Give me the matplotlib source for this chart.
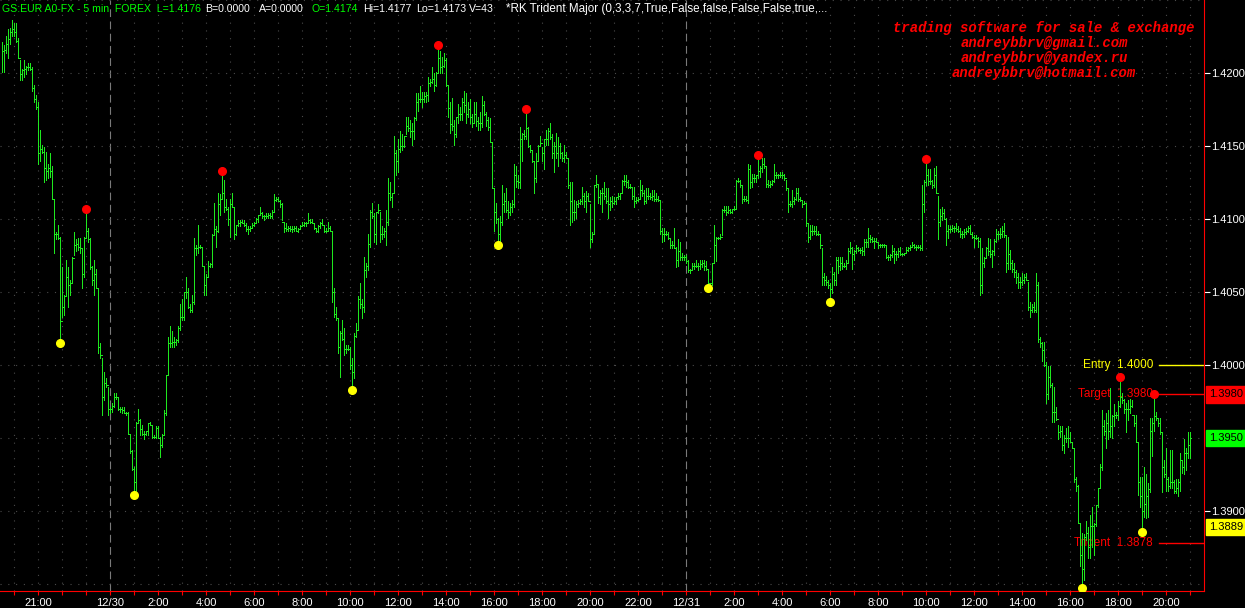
import numpy as np
import pandas as pd
import matplotlib
matplotlib.use("Agg")
import matplotlib.pyplot as plt
import matplotlib.transforms as mtransforms

# EUR 5-min bars, 12/29 19:30 -> 12/31 21:00, prices in pips above 1.3800
base = 1.3800
start_time = "2009-12-29 19:30"

bar_high = [
    421, 419, 425, 430, 431, 436, 434, 434, 424, 409,  # 0
    403, 409, 405, 407, 407, 404, 392, 385, 380, 361,
    351, 349, 346, 338, 345, 336, 314, 291, 296, 288,
    267, 248, 272, 267, 258, 274, 291, 286, 287, 287,
    280, 288, 305, 294, 287, 268, 272, 266, 253, 215,
    205, 195, 191, 185, 171, 174, 181, 181, 178, 171,  # 50
    171, 171, 168, 168, 153, 142, 130, 161, 170, 163,
    159, 155, 155, 160, 161, 159, 152, 158, 158, 151,
    153, 169, 193, 219, 227, 223, 219, 218, 227, 242,
    245, 250, 260, 253, 242, 248, 287, 282, 296, 282,
    281, 268, 262, 271, 270, 290, 311, 295, 318, 317,  # 100
    331, 327, 314, 308, 314, 318, 308, 296, 299, 299,
    299, 299, 297, 295, 295, 297, 298, 301, 303, 308,
    305, 303, 304, 304, 304, 306, 317, 315, 315, 313,
    311, 298, 297, 295, 295, 295, 295, 295, 294, 296,
    298, 298, 298, 304, 300, 300, 297, 294, 296, 298,  # 150
    300, 296, 294, 298, 295, 292, 253, 240, 232, 223,
    231, 225, 214, 214, 212, 205, 222, 229, 247, 256,
    245, 274, 270, 290, 306, 311, 304, 304, 310, 305,
    295, 294, 306, 328, 325, 318, 357, 347, 355, 360,
    358, 357, 370, 370, 368, 366, 370, 386, 386, 391,  # 200
    387, 387, 387, 397, 396, 404, 400, 401, 417, 415,
    411, 414, 410, 392, 380, 383, 368, 370, 379, 377,
    383, 388, 386, 380, 382, 372, 380, 380, 370, 373,
    384, 381, 373, 370, 369, 353, 321, 311, 301, 302,
    323, 318, 321, 312, 311, 313, 338, 336, 330, 363,  # 250
    359, 361, 373, 363, 351, 347, 340, 345, 351, 357,
    349, 355, 361, 362, 366, 358, 353, 359, 356, 352,
    346, 351, 346, 342, 325, 325, 313, 312, 313, 314,
    322, 318, 319, 318, 310, 291, 323, 330, 323, 320,
    321, 325, 321, 321, 315, 316, 315, 315, 318, 318,  # 300
    327, 330, 330, 327, 324, 322, 322, 315, 315, 327,
    323, 320, 321, 321, 318, 320, 320, 318, 316, 313,
    294, 294, 292, 291, 287, 285, 294, 281, 286, 284,
    277, 275, 275, 272, 266, 270, 270, 272, 270, 272,
    272, 272, 271, 265, 256, 270, 296, 288, 288, 290,  # 350
    307, 309, 309, 309, 307, 306, 309, 327, 328, 327,
    323, 316, 316, 338, 337, 331, 331, 330, 342, 336,
    342, 342, 336, 327, 326, 327, 338, 332, 331, 332,
    332, 331, 327, 321, 312, 320, 315, 321, 321, 315,
    313, 312, 311, 297, 296, 296, 295, 295, 292, 290,  # 400
    280, 263, 261, 258, 256, 267, 264, 274, 274, 274,
    274, 270, 272, 280, 284, 281, 279, 282, 281, 280,
    281, 286, 286, 294, 289, 288, 287, 287, 284, 283,
    283, 283, 282, 275, 276, 282, 280, 278, 280, 281,
    277, 277, 281, 281, 282, 284, 283, 282, 282, 282,  # 450
    323, 327, 339, 334, 334, 327, 335, 336, 316, 307,
    308, 307, 301, 296, 295, 296, 295, 297, 295, 294,
    292, 293, 294, 295, 296, 291, 289, 289, 288, 287,
    280, 274, 281, 287, 286, 279, 286, 293, 292, 294,
    295, 297, 289, 288, 279, 272, 270, 265, 263, 260,  # 500
    263, 262, 263, 257, 243, 242, 243, 263, 257, 219,
    216, 216, 202, 199, 199, 188, 185, 171, 159, 158,
    158, 152, 157, 158, 154, 147, 143, 123, 118, 92,
    85, 84, 93, 89, 97, 103, 92, 104, 116, 132,
    169, 162, 167, 169, 184, 166, 173, 168, 175, 190,  # 550
    181, 177, 174, 176, 177, 176, 166, 166, 147, 123,
    123, 130, 125, 119, 164, 164, 178, 168, 164, 164,
    154, 135, 143, 123, 142, 142, 121, 122, 122, 140,
    135, 149, 143, 154, 154,
]

bar_low = [
    401, 401, 414, 410, 420, 425, 425, 421, 410, 395,  # 0
    395, 397, 399, 402, 402, 388, 380, 375, 338, 340,
    345, 325, 327, 328, 329, 314, 277, 286, 286, 217,
    233, 234, 247, 240, 248, 256, 275, 278, 279, 277,
    253, 260, 288, 284, 266, 255, 248, 253, 208, 205,
    166, 176, 185, 166, 167, 168, 171, 177, 169, 168,  # 50
    167, 167, 166, 153, 140, 128, 113, 114, 160, 152,
    152, 149, 152, 152, 159, 150, 150, 150, 150, 137,
    144, 152, 166, 193, 212, 212, 212, 214, 216, 224,
    231, 231, 246, 239, 236, 236, 242, 275, 277, 280,
    268, 248, 248, 260, 267, 267, 289, 281, 291, 303,  # 100
    314, 305, 306, 296, 288, 308, 286, 289, 295, 295,
    297, 295, 292, 290, 292, 294, 295, 297, 298, 303,
    301, 299, 301, 301, 301, 301, 305, 312, 312, 308,
    299, 291, 292, 292, 292, 291, 292, 292, 291, 293,
    295, 295, 295, 297, 297, 297, 293, 291, 291, 294,  # 150
    296, 291, 291, 292, 292, 243, 233, 231, 208, 192,
    217, 207, 208, 210, 197, 185, 191, 219, 224, 239,
    232, 236, 260, 265, 281, 301, 284, 283, 304, 284,
    286, 288, 282, 296, 313, 308, 318, 330, 332, 346,
    347, 349, 358, 360, 356, 351, 355, 368, 374, 380,  # 200
    377, 380, 380, 381, 391, 393, 388, 391, 400, 400,
    400, 404, 391, 370, 359, 361, 351, 356, 366, 368,
    368, 373, 366, 370, 366, 363, 366, 364, 361, 361,
    363, 371, 364, 361, 353, 321, 292, 297, 284, 284,
    296, 305, 305, 301, 303, 305, 308, 322, 321, 321,  # 250
    340, 355, 355, 349, 346, 339, 318, 325, 340, 351,
    340, 334, 351, 351, 355, 342, 332, 342, 336, 342,
    340, 339, 342, 321, 296, 298, 299, 301, 308, 310,
    310, 308, 305, 312, 281, 284, 290, 322, 311, 310,
    305, 314, 311, 301, 306, 308, 310, 310, 314, 314,  # 300
    318, 323, 322, 321, 321, 314, 308, 311, 312, 314,
    316, 310, 311, 314, 314, 313, 312, 312, 312, 290,
    284, 285, 289, 286, 280, 280, 280, 267, 268, 272,
    272, 272, 270, 264, 263, 265, 266, 267, 265, 266,
    267, 265, 265, 255, 255, 255, 270, 271, 286, 286,  # 350
    289, 305, 303, 304, 304, 304, 306, 307, 325, 322,
    311, 312, 312, 311, 321, 322, 325, 325, 328, 329,
    332, 335, 322, 322, 322, 323, 325, 328, 328, 329,
    328, 327, 320, 305, 309, 308, 310, 313, 312, 312,
    308, 310, 295, 284, 286, 289, 290, 289, 289, 280,  # 400
    255, 255, 255, 253, 245, 249, 255, 255, 263, 265,
    266, 267, 266, 270, 277, 266, 272, 277, 278, 277,
    275, 275, 281, 281, 284, 284, 280, 284, 280, 281,
    281, 281, 273, 272, 272, 274, 270, 272, 274, 275,
    275, 275, 277, 278, 279, 281, 280, 279, 280, 279,  # 450
    279, 305, 323, 323, 324, 321, 322, 318, 286, 295,
    299, 300, 282, 287, 291, 292, 291, 292, 291, 288,
    287, 288, 290, 291, 290, 287, 281, 286, 281, 248,
    249, 267, 273, 275, 274, 267, 275, 284, 286, 287,
    288, 288, 264, 266, 266, 264, 260, 256, 253, 253,  # 500
    255, 256, 258, 238, 233, 236, 236, 236, 216, 212,
    203, 199, 174, 177, 185, 161, 161, 162, 149, 151,
    142, 140, 147, 144, 147, 143, 120, 114, 92, 62,
    49, 53, 80, 68, 68, 75, 70, 90, 103, 116,
    128, 152, 143, 149, 151, 150, 158, 164, 162, 171,  # 550
    174, 167, 154, 162, 167, 171, 158, 147, 111, 103,
    88, 96, 95, 96, 113, 138, 155, 162, 158, 153,
    113, 123, 114, 114, 116, 116, 112, 112, 110, 114,
    126, 125, 128, 136, 136,
]

bar_close = [
    415, 416, 420, 423, 428, 430, 428, 422, 410, 399,  # 0
    402, 403, 404, 404, 403, 390, 382, 377, 345, 348,
    346, 335, 333, 335, 333, 314, 290, 290, 287, 230,
    240, 247, 260, 255, 256, 273, 282, 283, 281, 280,
    262, 287, 292, 286, 267, 258, 262, 253, 212, 207,
    178, 188, 186, 170, 170, 172, 178, 178, 170, 170,  # 50
    169, 167, 167, 153, 141, 129, 120, 160, 162, 156,
    153, 153, 155, 160, 159, 151, 151, 157, 150, 145,
    152, 167, 193, 215, 215, 216, 216, 217, 225, 233,
    233, 250, 250, 240, 238, 243, 280, 280, 281, 281,
    268, 255, 260, 268, 269, 289, 293, 292, 310, 314,  # 100
    318, 308, 307, 300, 310, 308, 290, 296, 297, 298,
    297, 296, 293, 293, 294, 296, 297, 300, 303, 304,
    302, 302, 302, 303, 302, 305, 313, 314, 312, 310,
    298, 294, 293, 294, 293, 293, 294, 292, 293, 295,
    296, 297, 297, 299, 298, 297, 294, 292, 295, 297,  # 150
    296, 292, 292, 294, 292, 250, 235, 232, 212, 222,
    218, 211, 211, 211, 200, 195, 220, 224, 245, 242,
    240, 265, 268, 283, 305, 302, 290, 305, 306, 290,
    290, 292, 298, 318, 315, 318, 345, 340, 348, 350,
    350, 357, 364, 362, 360, 360, 369, 380, 382, 382,  # 200
    382, 384, 385, 393, 394, 396, 392, 400, 410, 404,
    405, 409, 392, 376, 365, 364, 358, 370, 372, 372,
    380, 378, 372, 375, 370, 366, 372, 367, 366, 366,
    378, 372, 368, 363, 353, 321, 305, 300, 290, 298,
    310, 312, 306, 305, 308, 310, 330, 326, 325, 355,  # 250
    358, 357, 362, 350, 347, 340, 328, 340, 350, 352,
    345, 355, 355, 360, 356, 345, 350, 345, 350, 345,
    342, 344, 342, 323, 312, 305, 305, 310, 311, 312,
    316, 312, 316, 312, 286, 290, 323, 324, 315, 318,
    318, 316, 312, 310, 312, 311, 312, 315, 316, 318,  # 300
    326, 326, 325, 322, 322, 316, 312, 313, 314, 320,
    318, 312, 316, 316, 315, 316, 314, 314, 313, 292,
    290, 290, 290, 287, 282, 282, 280, 272, 278, 274,
    274, 274, 271, 265, 265, 268, 268, 268, 268, 269,
    270, 268, 266, 256, 256, 270, 282, 287, 287, 288,  # 350
    306, 306, 305, 306, 305, 307, 307, 326, 326, 323,
    314, 314, 313, 334, 325, 328, 328, 330, 333, 335,
    338, 336, 324, 323, 324, 326, 330, 330, 330, 330,
    330, 328, 321, 310, 310, 312, 314, 318, 314, 313,
    310, 311, 297, 288, 292, 292, 292, 290, 290, 282,  # 400
    260, 258, 257, 255, 252, 262, 258, 272, 268, 270,
    268, 268, 270, 278, 280, 276, 278, 280, 279, 279,
    278, 284, 284, 287, 286, 285, 285, 284, 282, 282,
    282, 282, 274, 274, 275, 278, 276, 276, 278, 276,
    276, 277, 279, 280, 281, 282, 281, 281, 281, 280,  # 450
    310, 325, 330, 326, 326, 323, 330, 318, 298, 302,
    304, 300, 292, 293, 293, 294, 294, 293, 292, 290,
    290, 291, 292, 294, 290, 288, 287, 287, 285, 255,
    270, 273, 280, 278, 276, 278, 285, 290, 290, 290,
    292, 289, 270, 276, 270, 266, 264, 260, 257, 257,  # 500
    258, 260, 258, 240, 238, 240, 238, 255, 218, 215,
    210, 200, 180, 192, 186, 168, 168, 163, 154, 155,
    145, 150, 150, 150, 147, 143, 122, 117, 92, 70,
    60, 82, 85, 75, 90, 90, 91, 104, 116, 130,
    158, 155, 160, 155, 158, 165, 166, 166, 172, 178,  # 550
    176, 170, 170, 170, 172, 166, 160, 147, 120, 110,
    100, 105, 110, 115, 155, 160, 165, 164, 160, 154,
    130, 125, 122, 117, 120, 120, 114, 116, 120, 135,
    130, 140, 140, 145, 150,
]

# Trident swing points (bar index)
swing_high_idx = [42, 110, 218, 262, 378, 462, 559, 576]
swing_low_idx = [29, 66, 175, 248, 353, 414, 540, 570]

# levels
entry_price = 1.4000
target_price = 1.3980
trident_price = 1.3878
last_price = 1.3950
box_low_price = 1.3889
price_ticks = [1.3900, 1.4000, 1.4050, 1.4100, 1.4150, 1.4200]

header_parts = [
    ("GS:EUR A0-FX - 5 min  FOREX  L=1.4176", "#00ff00"),
    ("B=0.0000", "white"),
    ("A=0.0000", "white"),
    ("O=1.4174", "#00ff00"),
    ("Hi=1.4177", "white"),
    ("Lo=1.4173", "white"),
    ("V=43", "white"),
    ("*RK Trident Major (0,3,3,7,True,False,false,False,False,true,...", "white"),
]
header_x = [2, 205, 259, 311, 363, 416, 469, 506]
header_size = [7.6, 7.6, 7.6, 7.6, 7.6, 7.6, 7.6, 8.4]

promo_lines = [
    "trading software for sale & exchange",
    "andreybbrv@gmail.com",
    "andreybbrv@yandex.ru",
    "andreybbrv@hotmail.com",
]

hi = base + np.array(bar_high) / 10000
lo = base + np.array(bar_low) / 10000
cl = base + np.array(bar_close) / 10000
n = len(hi)
x = np.arange(n)
times = pd.date_range(start_time, periods=n, freq="5min")

W, H = 1245, 608
fig = plt.figure(figsize=(W / 100, H / 100), dpi=100, facecolor="black")
ax = fig.add_axes([0, 17 / H, 1204 / W, 1 - 17 / H], facecolor="black")
ax.set_xlim(-1, 601)
ax.set_ylim(1.38452, 1.4250)

green = "#1ee81e"
red = "#ff0000"
yellow = "#ffff00"

# grid: hourly dotted verticals, 50 pip dotted horizontals
hour_idx = [i for i, t in enumerate(times) if t.minute == 0]
for i in hour_idx:
    if times[i].hour == 0:
        ax.axvline(i, color="#7a7a7a", lw=0.8, ls=(0, (7, 4)), zorder=1)
    else:
        ax.axvline(i, color="#4a4a4a", lw=0.8, ls=(0, (1, 6)), zorder=1)
for p in np.arange(1.3850, 1.4251, 0.0050):
    ax.axhline(p, color="#4a4a4a", lw=0.8, ls=(0, (1, 6)), zorder=1)

# level lines and their labels (under the bars)
tr = ax.get_yaxis_transform()
x0 = 1159 / 1204
for price, col, name in [(entry_price, yellow, "Entry"),
                         (target_price, red, "Target"),
                         (trident_price, red, "Trident")]:
    ax.plot([x0, 1.0], [price, price], color=col, lw=1, transform=tr, zorder=2)
    ax.text(x0 - 6 / 1204, price, f"{name}  {price:.4f}", color=col,
            fontsize=8.5, family="Liberation Sans", ha="right", va="center",
            transform=tr, zorder=2)

# OHLC bars
lw_bar = 0.7
ax.vlines(x, lo, hi, colors=green, lw=lw_bar, antialiased=False, zorder=3)
ax.hlines(cl[:-1], x[1:] - 0.5, x[1:], colors=green, lw=lw_bar, antialiased=False, zorder=3)
ax.hlines(cl, x, x + 0.5, colors=green, lw=lw_bar, antialiased=False, zorder=3)

# swing markers
up = mtransforms.offset_copy(ax.transData, fig=fig, x=0, y=3, units="dots")
down = mtransforms.offset_copy(ax.transData, fig=fig, x=0, y=-3, units="dots")
ax.plot(swing_high_idx, hi[swing_high_idx], "o", color=red, ms=5.5, transform=up, zorder=4)
ax.plot(swing_low_idx, lo[swing_low_idx], "o", color=yellow, ms=5.5, transform=down, zorder=4)

# axes styling
for s in ["top", "left"]:
    ax.spines[s].set_visible(False)
ax.spines["bottom"].set_color(red)
ax.spines["right"].set_color(red)

label_times = [pd.Timestamp("2009-12-29 21:00")] + list(
    pd.date_range("2009-12-30 00:00", "2009-12-31 20:00", freq="2h"))
tick_pos = []
tick_lab = []
for i in hour_idx:
    tick_pos.append(i)
    t = times[i]
    if t in label_times:
        tick_lab.append(f"{t.month}/{t.day}" if t.hour == 0 else f"{t.hour}:00")
    else:
        tick_lab.append("")
ax.set_xticks(tick_pos)
ax.set_xticklabels(tick_lab)
ax.tick_params(axis="x", colors=red, length=3, width=0.8, pad=2)
for lab in ax.get_xticklabels():
    lab.set_color("white")
    lab.set_fontsize(8)
    lab.set_family("Liberation Sans")

ax.yaxis.tick_right()
ax.set_yticks(price_ticks)
ax.set_yticklabels([f"{p:.4f}" for p in price_ticks])
ax.tick_params(axis="y", colors="white", length=4, width=0.8, pad=1)
for lab in ax.get_yticklabels():
    lab.set_fontsize(8)
    lab.set_family("Liberation Sans")

# boxed price labels on the right scale
for price, col in [(target_price, red), (last_price, "#00ff00"), (box_low_price, yellow)]:
    ax.text(1.0 + 5 / 1204, price, f"{price:.4f}", color="black", fontsize=8,
            family="Liberation Sans", ha="left", va="center", transform=tr,
            bbox=dict(boxstyle="square,pad=0.3", fc=col, ec=col), clip_on=False, zorder=5)

# header
for (txt, col), px, fs in zip(header_parts, header_x, header_size):
    fig.text(px / W, 1 - 9 / H, txt, color=col, fontsize=fs,
             family="Liberation Sans", ha="left", va="center")

# promo text
for k, line in enumerate(promo_lines):
    fig.text(1044 / W, 1 - (28 + 15 * k) / H, line, color=red, fontsize=10,
             family="Liberation Mono", weight="bold", style="italic",
             ha="center", va="center")

fig.savefig("out.png", dpi=100, facecolor="black")
